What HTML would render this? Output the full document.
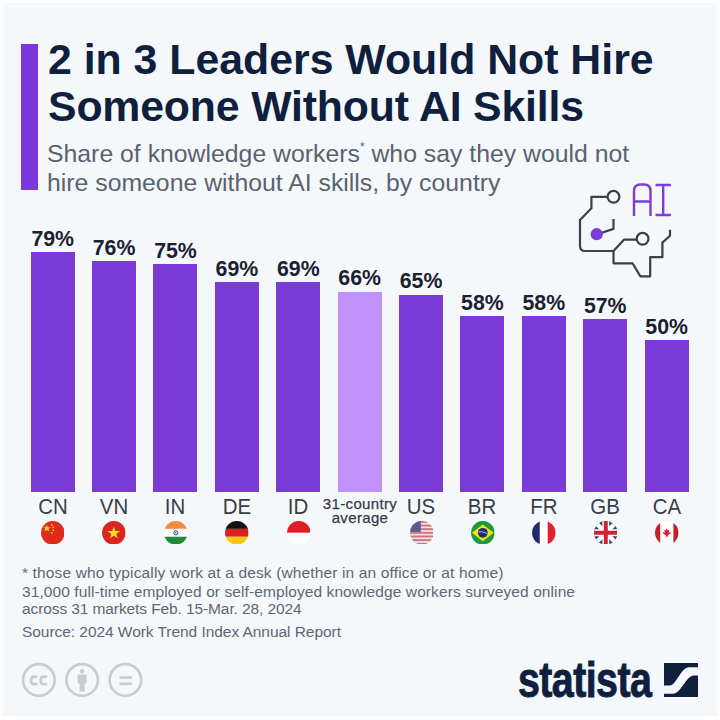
<!DOCTYPE html>
<html><head><meta charset="utf-8">
<style>
html,body{margin:0;padding:0;width:720px;height:720px;overflow:hidden;background:#ffffff;}
#bg{position:absolute;left:2.5px;top:2.5px;width:714px;height:713.5px;background:#f5f8fb;}
.t{position:absolute;white-space:nowrap;font-family:"Liberation Sans",sans-serif;line-height:1;}
.title{font-weight:bold;font-size:42.8px;color:#0f1f3d;left:48px;}
.sub{font-size:24.8px;color:#5a6270;left:47px;}
.accent{position:absolute;left:21.3px;top:44px;width:16.7px;height:146.2px;background:#7c37dd;}
.bar{position:absolute;width:44px;background:#7b3bd9;}
.val{position:absolute;width:80px;text-align:center;font-weight:bold;font-size:21.3px;color:#1a2130;}
.lab{position:absolute;width:80px;text-align:center;font-size:21.3px;color:#383e49;transform:scaleX(0.96);}
.foot{font-size:15.5px;color:#5f6672;left:22px;}
</style></head><body>
<div id="bg"></div>
<div class="accent"></div>
<div class="t title" style="top:37.75px">2 in 3 Leaders Would Not Hire</div>
<div class="t title" style="top:84.65px;letter-spacing:-0.17px">Someone Without AI Skills</div>
<div class="t sub" style="top:142px">Share of knowledge workers<sup style="font-size:12px;vertical-align:top;position:relative;top:-1px">*</sup> who say they would not</div>
<div class="t sub" style="top:170.9px">hire someone without AI skills, by country</div>

<div id="chart">
<div class="bar" style="left:30.7px;top:252px;height:240px;"></div>
<div class="t val" style="left:12.7px;top:228.60px">79%</div>
<svg style="position:absolute;left:40.8px;top:520.7px" width="23.6" height="23.6" viewBox="0 0 24 24"><defs><clipPath id="c0"><circle cx="12" cy="12" r="12"></circle></clipPath></defs><g clip-path="url(#c0)"><rect width="24" height="24" fill="#e02a1c"></rect><path fill="#f8d21c" d="M6 3.5 L7 6.3 L9.9 6.3 L7.6 8 L8.5 10.8 L6 9.1 L3.5 10.8 L4.4 8 L2.1 6.3 L5 6.3 Z"></path><circle cx="11" cy="4" r="0.9" fill="#f8d21c"></circle><circle cx="12.5" cy="6.5" r="0.9" fill="#f8d21c"></circle><circle cx="12.5" cy="9.5" r="0.9" fill="#f8d21c"></circle><circle cx="11" cy="12" r="0.9" fill="#f8d21c"></circle></g></svg>
<div class="t lab" style="left:12.7px;top:496.9px">CN</div>
<div class="bar" style="left:92.09px;top:261.13px;height:230.87px;"></div>
<div class="t val" style="left:74.09px;top:237.73px">76%</div>
<svg style="position:absolute;left:102.25px;top:520.7px" width="23.6" height="23.6" viewBox="0 0 24 24"><defs><clipPath id="c1"><circle cx="12" cy="12" r="12"></circle></clipPath></defs><g clip-path="url(#c1)"><rect width="24" height="24" fill="#d8261d"></rect><path fill="#fcdc2a" d="M12 5.5 L13.6 10.2 L18.5 10.2 L14.5 13.1 L16 17.8 L12 14.9 L8 17.8 L9.5 13.1 L5.5 10.2 L10.4 10.2 Z"></path></g></svg>
<div class="t lab" style="left:74.09px;top:496.9px">VN</div>
<div class="bar" style="left:153.48px;top:264.17px;height:227.83px;"></div>
<div class="t val" style="left:135.48px;top:240.77px">75%</div>
<svg style="position:absolute;left:163.7px;top:520.7px" width="23.6" height="23.6" viewBox="0 0 24 24"><defs><clipPath id="c2"><circle cx="12" cy="12" r="12"></circle></clipPath></defs><g clip-path="url(#c2)"><rect width="24" height="8" fill="#f28c45"></rect><rect y="8" width="24" height="8" fill="#ffffff"></rect><rect y="16" width="24" height="8" fill="#1f8a3a"></rect><circle cx="12" cy="12" r="2.1" fill="none" stroke="#2a3270" stroke-width="0.9"></circle><circle cx="12" cy="12" r="0.7" fill="#2a3270"></circle></g></svg>
<div class="t lab" style="left:135.48px;top:496.9px">IN</div>
<div class="bar" style="left:214.87px;top:282.43px;height:209.57px;"></div>
<div class="t val" style="left:196.87px;top:259.03px">69%</div>
<svg style="position:absolute;left:225.15px;top:520.7px" width="23.6" height="23.6" viewBox="0 0 24 24"><defs><clipPath id="c3"><circle cx="12" cy="12" r="12"></circle></clipPath></defs><g clip-path="url(#c3)"><rect width="24" height="8" fill="#111111"></rect><rect y="8" width="24" height="8" fill="#dc1f1f"></rect><rect y="16" width="24" height="8" fill="#f7c712"></rect></g></svg>
<div class="t lab" style="left:196.87px;top:496.9px">DE</div>
<div class="bar" style="left:276.26px;top:282.43px;height:209.57px;"></div>
<div class="t val" style="left:258.26px;top:259.03px">69%</div>
<svg style="position:absolute;left:286.6px;top:520.7px" width="23.6" height="23.6" viewBox="0 0 24 24"><defs><clipPath id="c4"><circle cx="12" cy="12" r="12"></circle></clipPath></defs><g clip-path="url(#c4)"><rect width="24" height="12" fill="#e31b23"></rect><rect y="12" width="24" height="12" fill="#ffffff"></rect></g></svg>
<div class="t lab" style="left:258.26px;top:496.9px">ID</div>
<div class="bar" style="left:337.65px;top:291.56px;height:200.44px;background:#c191fb"></div>
<div class="t val" style="left:319.65px;top:268.16px">66%</div>
<div class="bar" style="left:399.04px;top:294.6px;height:197.4px;"></div>
<div class="t val" style="left:381.04px;top:271.20px">65%</div>
<svg style="position:absolute;left:409.5px;top:520.7px" width="23.6" height="23.6" viewBox="0 0 24 24"><defs><clipPath id="c6"><circle cx="12" cy="12" r="12"></circle></clipPath></defs><g clip-path="url(#c6)"><rect width="24" height="24" fill="#f6dde0"></rect><g fill="#c9757f"><rect y="0" width="24" height="1.85"></rect><rect y="3.7" width="24" height="1.85"></rect><rect y="7.4" width="24" height="1.85"></rect><rect y="11.1" width="24" height="1.85"></rect><rect y="14.8" width="24" height="1.85"></rect><rect y="18.5" width="24" height="1.85"></rect><rect y="22.2" width="24" height="1.85"></rect></g><rect width="11" height="11.1" fill="#5a5d8c"></rect></g></svg>
<div class="t lab" style="left:381.04px;top:496.9px">US</div>
<div class="bar" style="left:460.43px;top:315.91px;height:176.09px;"></div>
<div class="t val" style="left:442.43px;top:292.51px">58%</div>
<svg style="position:absolute;left:470.95px;top:520.7px" width="23.6" height="23.6" viewBox="0 0 24 24"><defs><clipPath id="c7"><circle cx="12" cy="12" r="12"></circle></clipPath></defs><g clip-path="url(#c7)"><rect width="24" height="24" fill="#1f9a3a"></rect><path d="M1 12 L12 3.5 L23 12 L12 20.5 Z" fill="#f2e21a"></path><circle cx="12" cy="12" r="5" fill="#1d2f7a"></circle><path d="M7.5 11 Q12 10 16.5 13" stroke="#d8e0f0" stroke-width="0.8" fill="none"></path></g></svg>
<div class="t lab" style="left:442.43px;top:496.9px">BR</div>
<div class="bar" style="left:521.82px;top:315.91px;height:176.09px;"></div>
<div class="t val" style="left:503.82px;top:292.51px">58%</div>
<svg style="position:absolute;left:532.4px;top:520.7px" width="23.6" height="23.6" viewBox="0 0 24 24"><defs><clipPath id="c8"><circle cx="12" cy="12" r="12"></circle></clipPath></defs><g clip-path="url(#c8)"><rect width="8" height="24" fill="#1f2a6e"></rect><rect x="8" width="8" height="24" fill="#ffffff"></rect><rect x="16" width="8" height="24" fill="#e2232d"></rect></g></svg>
<div class="t lab" style="left:503.82px;top:496.9px">FR</div>
<div class="bar" style="left:583.21px;top:318.95px;height:173.05px;"></div>
<div class="t val" style="left:565.21px;top:295.55px">57%</div>
<svg style="position:absolute;left:593.85px;top:520.7px" width="23.6" height="23.6" viewBox="0 0 24 24"><defs><clipPath id="c9"><circle cx="12" cy="12" r="12"></circle></clipPath></defs><g clip-path="url(#c9)"><rect width="24" height="24" fill="#3a3f5e"></rect><path d="M0 0 L24 24 M24 0 L0 24" stroke="#ffffff" stroke-width="4.5"></path><path d="M12 0 V24 M0 12 H24" stroke="#ffffff" stroke-width="7"></path><path d="M12 0 V24 M0 12 H24" stroke="#d0213a" stroke-width="4"></path></g></svg>
<div class="t lab" style="left:565.21px;top:496.9px">GB</div>
<div class="bar" style="left:644.6px;top:340.25px;height:151.75px;"></div>
<div class="t val" style="left:626.6px;top:316.85px">50%</div>
<svg style="position:absolute;left:655.3px;top:520.7px" width="23.6" height="23.6" viewBox="0 0 24 24"><defs><clipPath id="c10"><circle cx="12" cy="12" r="12"></circle></clipPath></defs><g clip-path="url(#c10)"><rect width="24" height="24" fill="#ffffff"></rect><rect width="5.3" height="24" fill="#c41f2a"></rect><rect x="18.7" width="5.3" height="24" fill="#c41f2a"></rect><path fill="#d8222c" d="M12 7.5 L13 9.5 L14.5 9 L14 12 L16 11 L15.5 13 L13 14.5 V16 H11 V14.5 L8.5 13 L8 11 L10 12 L9.5 9 L11 9.5 Z"></path></g></svg>
<div class="t lab" style="left:626.6px;top:496.9px">CA</div>
</div>

<div class="t foot" style="top:565.4px;letter-spacing:0.14px">* those who typically work at a desk (whether in an office or at home)</div>
<div class="t foot" style="top:583.5px;letter-spacing:0.09px">31,000 full-time employed or self-employed knowledge workers surveyed online</div>
<div class="t foot" style="top:601.4px;letter-spacing:-0.1px">across 31 markets Feb. 15-Mar. 28, 2024</div>
<div class="t foot" style="top:624.1px;letter-spacing:-0.05px">Source: 2024 Work Trend Index Annual Report</div>


<div class="t avg" style="left:320px;top:497px;width:80px;text-align:center;font-size:15px;color:#363c47;letter-spacing:0.35px;line-height:14px;-webkit-text-stroke:0.25px #363c47">31-country<br>average</div>

<svg id="ai" style="position:absolute;left:0;top:0" width="720" height="720" viewBox="0 0 720 720">
  <g fill="none" stroke="#3b3f48" stroke-width="2.2" stroke-linejoin="round" stroke-linecap="butt">
    <circle cx="613.5" cy="196.8" r="5.9"/>
    <circle cx="642.6" cy="238.8" r="5.9"/>
    <path d="M607.6 196.8 H591.4 V208.3 L580 220 V245.7 Q580 251 585.3 251 H613.5 L624.2 239.6 H636.7"/>
    <path d="M613.5 251 V263.3 H632.6 L640.3 276.3 H650.2 V257.2 H662.4 V242.6 L670 235.8 V229.7"/>
    <path d="M598 234 L613.5 228.9 V219" />
  </g>
  <circle cx="596.7" cy="234.2" r="6.1" fill="#7c3cd9"/>
  <g fill="none" stroke="#7c3cd9" stroke-width="2.4">
    <path d="M634 216 V191 Q634 184.5 640.5 184.5 H644 Q650.5 184.5 650.5 191 V216 M634 201.5 H650.5"/>
    <path d="M655.5 185 H671 M663.2 185 V215 M655.5 215 H671"/>
  </g>
</svg>

<svg style="position:absolute;left:0;top:0" width="720" height="720" viewBox="0 0 720 720">
  <g fill="none" stroke="#c8cbd0" stroke-width="2.6">
    <circle cx="38.85" cy="679.9" r="15.8"/>
    <circle cx="82.1" cy="679.9" r="15.8"/>
    <circle cx="125.4" cy="679.9" r="15.8"/>
  </g>
  <g fill="none" stroke="#c8cbd0" stroke-width="2.6" stroke-linecap="butt">
    <path d="M37.2 677.2 Q36.5 676.6 34.2 676.6 Q31 676.6 31 680.4 Q31 684.2 34.2 684.2 Q36.5 684.2 37.2 683.6"/>
    <path d="M46.8 677.2 Q46.1 676.6 43.8 676.6 Q40.6 676.6 40.6 680.4 Q40.6 684.2 43.8 684.2 Q46.1 684.2 46.8 683.6"/>
  </g>
  <g fill="#c8cbd0">
    <circle cx="82.1" cy="671.2" r="2.2"/>
    <path d="M77.6 674.6 H86.6 V683.3 H84.7 V691.5 H79.5 V683.3 H77.6 Z"/>
    <rect x="119.6" y="676.2" width="12.4" height="2.6"/>
    <rect x="119.6" y="682.5" width="12.4" height="2.6"/>
  </g>
</svg>

<div class="t" style="left:518px;top:655.5px;font-size:49.8px;font-weight:bold;color:#0f1f3d;transform:scaleX(0.79);transform-origin:0 0;letter-spacing:-0.7px;-webkit-text-stroke:0.9px #0f1f3d">statista</div>
<svg style="position:absolute;left:663.5px;top:663.2px" width="34.2" height="34" viewBox="0 0 34.2 34">
  <rect x="0" y="0" width="34.2" height="34" fill="#0f1f3d"/>
  <path d="M0 22.6 H6 C12 22.6 17 4.3 25 4.3 H34.2 V12.4 H30 C22 12.4 17 30.7 9 30.7 H0 Z" fill="#f5f8fb"/>
</svg>


</body></html>
